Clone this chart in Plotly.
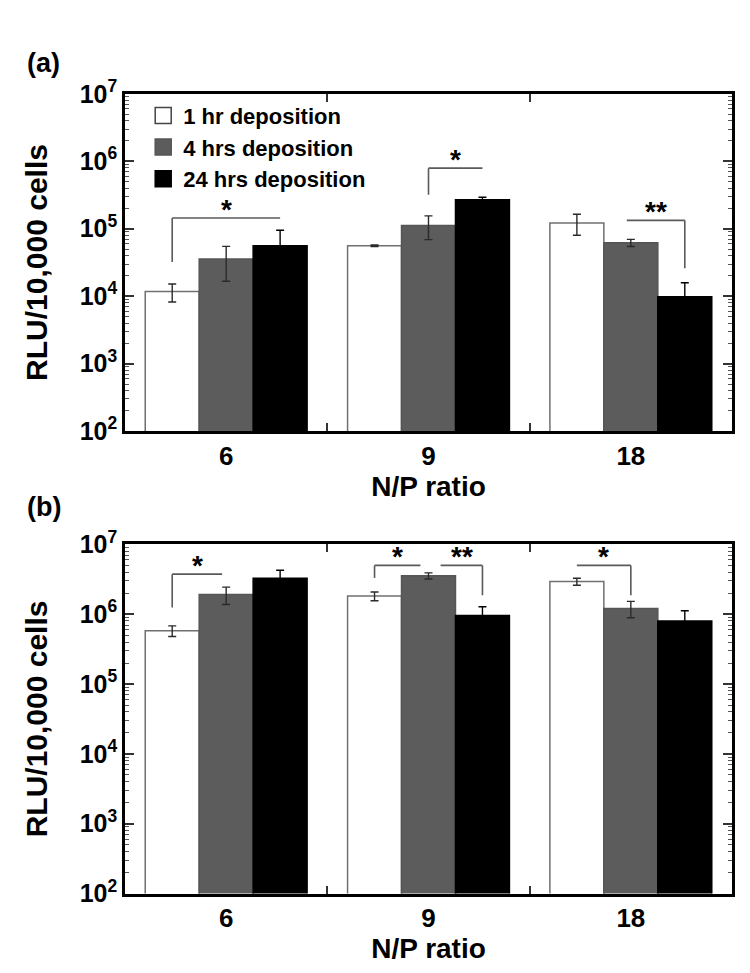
import math
import plotly.graph_objects as go
from plotly.subplots import make_subplots

categories = ["6", "9", "18"]
series_names = ["1 hr deposition", "4 hrs deposition", "24 hrs deposition"]

# panel (a)
a_1hr = [1.17e4, 5.6e4, 1.22e5]
a_1hr_err = [0.35e4, 0.15e4, 0.42e5]
a_4hr = [3.57e4, 1.12e5, 6.2e4]
a_4hr_err = [1.9e4, 0.43e5, 0.75e4]
a_24hr = [5.6e4, 2.69e5, 9.8e3]
a_24hr_err = [3.9e4, 0.24e5, 6.0e3]

# panel (b)
b_1hr = [5.8e5, 1.82e6, 2.94e6]
b_1hr_err = [1.0e5, 0.26e6, 0.34e6]
b_4hr = [1.91e6, 3.55e6, 1.21e6]
b_4hr_err = [0.53e6, 0.36e6, 0.32e6]
b_24hr = [3.27e6, 9.6e5, 8.0e5]
b_24hr_err = [1.0e6, 3.2e5, 3.2e5]

tick_vals = [1e2, 1e3, 1e4, 1e5, 1e6, 1e7]
tick_text = ["10<sup>2</sup>", "10<sup>3</sup>", "10<sup>4</sup>", "10<sup>5</sup>", "10<sup>6</sup>", "10<sup>7</sup>"]
minor_vals = [m * 10 ** e for e in range(2, 7) for m in range(2, 10)]

FONT = "Liberation Sans, Arial, sans-serif"
fills = ["white", "#5c5c5c", "black"]
lines = ["#707070", "#555555", "black"]
err_colors = ["#2a2a2a", "#2a2a2a", "black"]

fig = make_subplots(rows=2, cols=1)

panels = [
    (1, [a_1hr, a_4hr, a_24hr], [a_1hr_err, a_4hr_err, a_24hr_err]),
    (2, [b_1hr, b_4hr, b_24hr], [b_1hr_err, b_4hr_err, b_24hr_err]),
]
for row, vals, errs in panels:
    for i in range(3):
        fig.add_trace(go.Bar(
            x=categories, y=vals[i], name=series_names[i],
            marker=dict(color=fills[i], line=dict(color=lines[i], width=1.5)),
            error_y=dict(type="data", array=errs[i], color=err_colors[i], thickness=1.4, width=4),
            showlegend=False, legendgroup=series_names[i],
        ), row=row, col=1)

# legend entries (square swatches like the reference)
for i in range(3):
    fig.add_trace(go.Scatter(
        x=[None], y=[None], mode="markers", name=series_names[i], legendgroup=series_names[i],
        marker=dict(symbol="square", size=16, color=fills[i], line=dict(color=lines[i] if i else "#444", width=1.5)),
        showlegend=True,
    ), row=1, col=1)

fig.update_layout(
    width=750, height=973,
    barmode="group", bargap=0.2, bargroupgap=0,
    plot_bgcolor="white", paper_bgcolor="white",
    margin=dict(l=117, r=26, t=0, b=0),
    font=dict(family=FONT, size=20, color="black", weight="bold"),
    legend=dict(x=0.03, y=0.927, xanchor="left", yanchor="top",
                bgcolor="rgba(0,0,0,0)", font=dict(size=22, family=FONT, weight="bold"),
                tracegroupgap=0, itemwidth=30),
    showlegend=True,
)
fig.update_layout(yaxis=dict(domain=[0.5694, 0.928]), yaxis2=dict(domain=[0.0781, 0.4491]),
                  xaxis=dict(anchor="y"), xaxis2=dict(anchor="y2"))

for r in (1, 2):
    fig.update_yaxes(
        type="log", range=[2, 7], tickmode="array", tickvals=tick_vals, ticktext=tick_text,
        ticks="inside", ticklen=9, tickwidth=1.5, tickcolor="#333",
        minor=dict(ticks="inside", ticklen=4, tickwidth=1, tickcolor="#555", showgrid=False,
                   tickmode="array", tickvals=minor_vals),
        showline=True, linecolor="black", linewidth=2.5, mirror="allticks",
        showgrid=False, zeroline=False,
        tickfont=dict(size=25, family=FONT, weight="bold"),
        title=dict(text="RLU/10,000 cells", font=dict(size=30, family=FONT, weight="bold"), standoff=24),
        row=r, col=1)
    fig.update_xaxes(
        ticks="inside", tickson="boundaries", ticklen=8, tickwidth=1.5, tickcolor="#333",
        showline=True, linecolor="black", linewidth=2.5, mirror="allticks",
        showgrid=False, tickfont=dict(size=26, family=FONT, weight="bold"),
        title=dict(text="N/P ratio", font=dict(size=28, family=FONT, weight="bold"), standoff=0),
        row=r, col=1)

# significance brackets
bw = 0.8 / 3
def bx(cat, k):
    return cat + (k - 1) * bw

# (xref, yref, x0, x1, y_top, y_left_end, y_right_end, label)
brackets = [
    ("x", "y", bx(0, 0), bx(0, 2), 1.44e5, 3.2e4, None, "*"),
    ("x", "y", bx(1, 1), bx(1, 2), 7.9e5, 3.2e5, None, "*"),
    ("x", "y", bx(2, 1) - 0.02, bx(2, 2), 1.33e5, None, 2.6e4, "**"),
    ("x2", "y2", bx(0, 0), bx(0, 1) - 0.02, 3.75e6, 1.25e6, None, "*"),
    ("x2", "y2", bx(1, 0), bx(1, 1) - 0.04, 5.0e6, 3.3e6, None, "*"),
    ("x2", "y2", bx(1, 1) + 0.06, bx(1, 2), 5.0e6, None, 1.87e6, "**"),
    ("x2", "y2", bx(2, 0), bx(2, 1), 5.0e6, None, 1.87e6, "*"),
]
LC = "#5a5a5a"
for xr, yr, x0, x1, yt, yl, yrr, lab in brackets:
    fig.add_shape(type="line", xref=xr, yref=yr, x0=x0, x1=x1, y0=yt, y1=yt, line=dict(color=LC, width=1.6))
    if yl:
        fig.add_shape(type="line", xref=xr, yref=yr, x0=x0, x1=x0, y0=yl, y1=yt, line=dict(color=LC, width=1.6))
    if yrr:
        fig.add_shape(type="line", xref=xr, yref=yr, x0=x1, x1=x1, y0=yrr, y1=yt, line=dict(color=LC, width=1.6))
    fig.add_annotation(xref=xr, yref=yr, x=(x0 + x1) / 2, y=math.log10(yt), text=lab,
                       showarrow=False, yanchor="bottom", yshift=-9,
                       font=dict(size=28, family=FONT, weight="bold"))

fig.add_annotation(xref="paper", yref="paper", x=-0.165, y=1 - 38 / 973, xanchor="left", yanchor="middle",
                   text="(a)", showarrow=False, font=dict(size=27, family=FONT, weight="bold"))
fig.add_annotation(xref="paper", yref="paper", x=-0.165, y=1 - 497 / 973, xanchor="left", yanchor="middle",
                   text="(b)", showarrow=False, font=dict(size=27, family=FONT, weight="bold"))

fig.write_html("out.html")
